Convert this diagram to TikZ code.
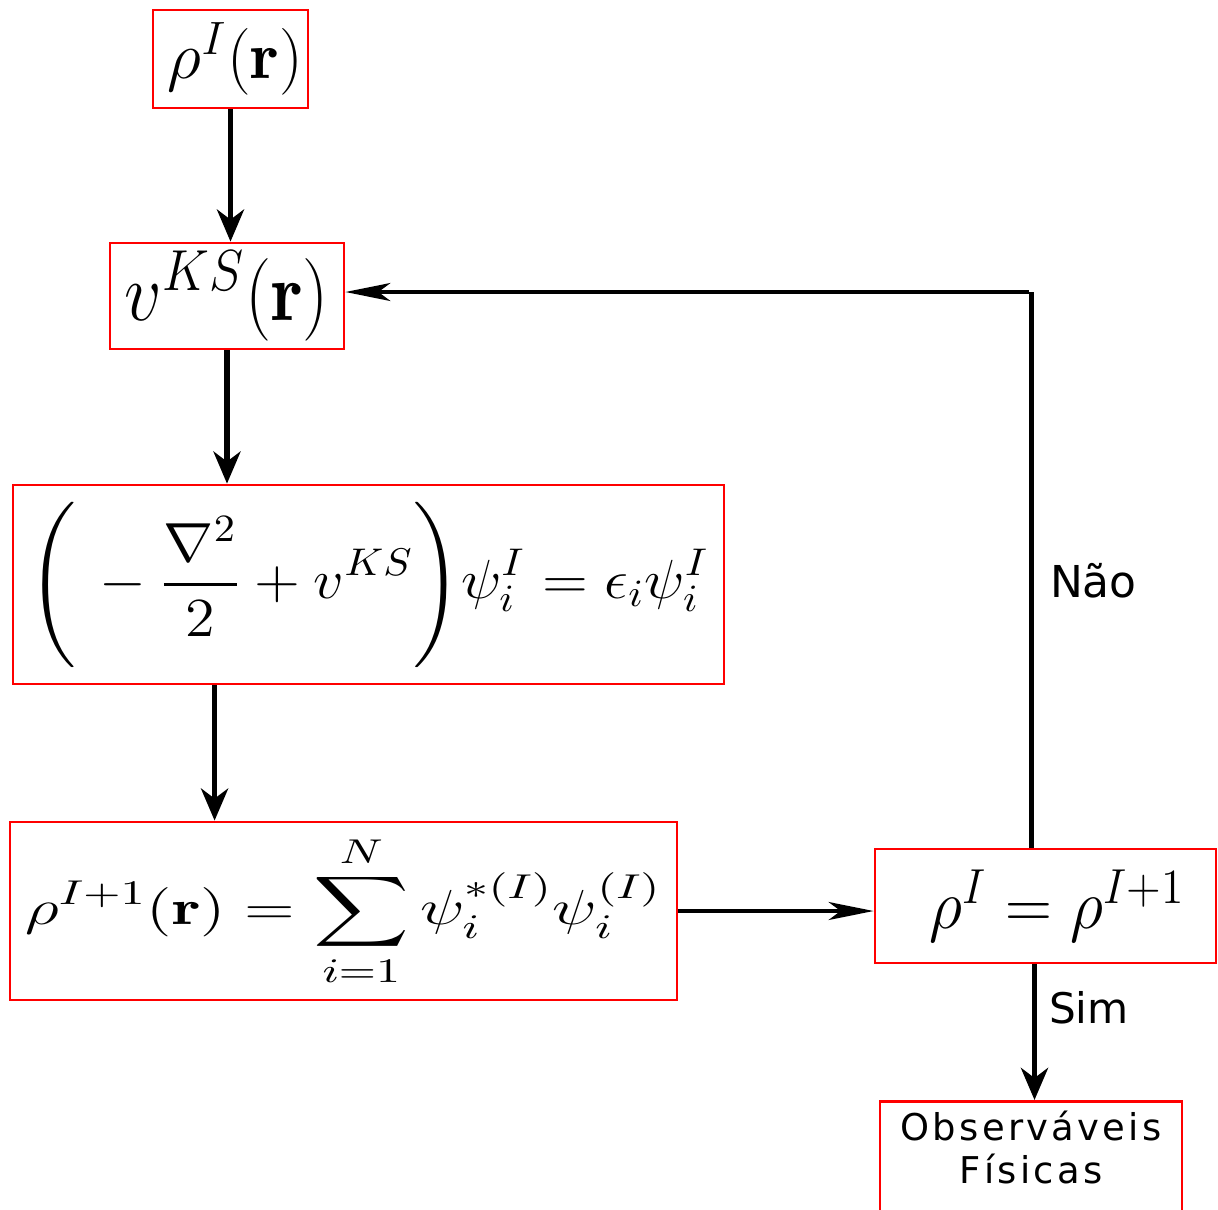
\RequirePackage{fix-cm}
\documentclass[tikz,border=0pt]{standalone}
\usepackage{amsmath}
\usepackage{amsfonts}
\usepackage{xcolor}
\usepackage{graphicx}
\usepackage{fontspec}
\newfontfamily\labelfont{DejaVu Sans}
\usepackage{tikz}
\usetikzlibrary{positioning,arrows.meta}

\tikzset{
  redbox/.style={draw=red, line width=0.8pt, inner sep=0pt, anchor=center},
  arr/.style={line width=1.6pt, -{Stealth[length=0.32cm, width=0.27cm, inset=0.1cm]}},
  thinarr/.style={line width=1pt, -{Stealth[length=0.45cm, width=0.18cm, inset=0.12cm]}},
  lbl/.style={font=\labelfont}
}

\begin{document}
\begin{tikzpicture}
\useasboundingbox (0,0) rectangle (12.18,-12.09);

\node[redbox, minimum width=1.55cm, minimum height=0.98cm](rhoin) at (2.305,-0.59)
  {\fontsize{19}{23}\selectfont \hspace*{0.1cm}$\rho^I(\mathbf{r})$};
\node[redbox, minimum width=2.34cm, minimum height=1.06cm](vks) at (2.27,-2.96)
  {\fontsize{21}{25}\selectfont \scalebox{1}[1.12]{$v^{KS}(\mathbf{r})$}};
\node[redbox, minimum width=7.11cm, minimum height=1.99cm](kseq) at (3.685,-5.845)
  {\fontsize{16}{20}\selectfont \scalebox{1.07}[0.98]{$\displaystyle\Bigg(\,-\frac{\nabla^2}{2}+v^{KS}\Bigg)\psi_i^I=\epsilon_i\psi_i^I$}};
\node[redbox, minimum width=6.67cm, minimum height=1.78cm](dens) at (3.435,-9.11)
  {\fontsize{14}{18}\selectfont \scalebox{1.35}[1]{$\displaystyle\rho^{I+1}(\mathbf{r})=\sum_{i=1}^{N}\psi_i^{*(I)}\psi_i^{(I)}$}};
\node[redbox, minimum width=3.41cm, minimum height=1.14cm](conv) at (10.455,-9.06)
  {\fontsize{18.5}{22}\selectfont \hspace*{0.24cm}\scalebox{1}[1.08]{$\rho^I=\rho^{I+1}$}};
\node[redbox, minimum width=3.02cm, anchor=north, inner ysep=0.1cm, text depth=0.9cm, align=center, font=\labelfont\addfontfeature{LetterSpace=9}\fontsize{10.5}{12}\selectfont](obs) at (10.31,-11.00)
  {Observáveis\\Físicas};

\draw[arr] (rhoin.south) -- (rhoin.south |- vks.north);
\draw[arr] (vks.south) -- (vks.south |- kseq.north);
\draw[arr] ([xshift=2.03cm]kseq.south west) -- ([xshift=2.06cm]dens.north west);
\draw[thinarr] (dens.east) -- (dens.east -| conv.west);
\draw[line width=1.6pt] ([xshift=-1.4mm]conv.north) -- node[lbl, pos=0.48, right=0.04cm, font=\labelfont\fontsize{12.5}{15}\selectfont]{Não} ([xshift=-1.4mm,yshift=0.04cm]conv.north |- vks.east) coordinate(back);
\draw[thinarr] ([xshift=-0.8pt]back) -- ([yshift=0.04cm]vks.east);
\draw[arr] ([xshift=-1.1mm]conv.south) -- node[lbl, pos=0.32, right=0cm, font=\labelfont\fontsize{12}{14}\selectfont]{Sim} ([xshift=-1.1mm]conv.south |- obs.north);
\end{tikzpicture}
\end{document}
